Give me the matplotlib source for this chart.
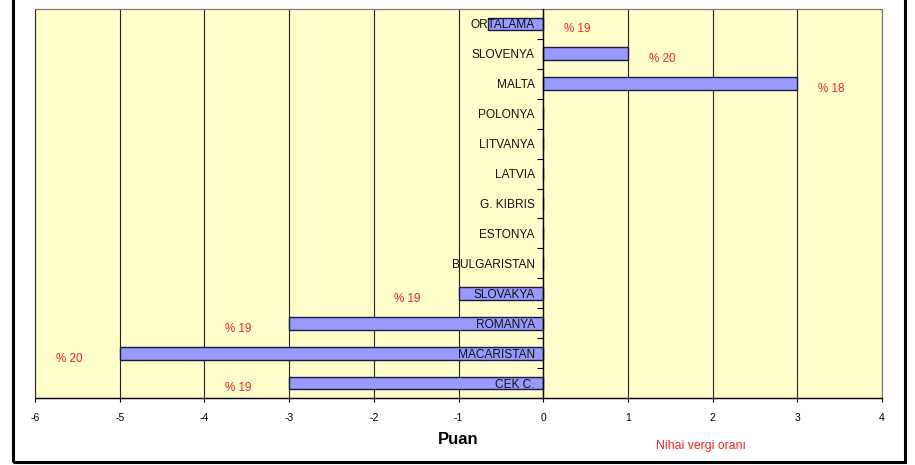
import matplotlib.pyplot as plt
from matplotlib.patches import Rectangle

plt.rcParams['font.family'] = ['Liberation Sans', 'DejaVu Sans']
plt.rcParams['axes.unicode_minus'] = False

# veriler (yukaridan asagiya)
ulkeler = ["ORTALAMA", "SLOVENYA", "MALTA", "POLONYA", "LITVANYA", "LATVIA",
           "G. KIBRIS", "ESTONYA", "BULGARISTAN", "SLOVAKYA", "ROMANYA",
           "MACARISTAN", "CEK C."]
puan = [-0.65, 1, 3, 0, 0, 0, 0, 0, 0, -1, -3, -5, -3]
oran = ["% 19", "% 20", "% 18", "", "", "", "", "", "", "% 19", "% 19", "% 20", "% 19"]

fig = plt.figure(figsize=(9.15, 4.65), dpi=100)
ax = fig.add_axes([35 / 915, 1 - 398 / 465, 847 / 915, 389 / 465])
ax.set_facecolor('#FFFFCC')

y = list(range(len(ulkeler)))
ax.barh(y, puan, height=0.43, color='#9999FF', edgecolor='#1a1a40',
        linewidth=1.0, zorder=3)

for i, (ad, v, t) in enumerate(zip(ulkeler, puan, oran)):
    ax.text(-0.1, i, ad, ha='right', va='center_baseline', fontsize=8.6,
            color='#111111', zorder=5)
    if t:
        if v > 0 or i == 0:
            lx = max(v, 0) + 0.4
        else:
            lx = v - 0.6
        ax.text(lx, i + 0.13, t, ha='center', va='center_baseline', fontsize=8.4,
                color='#FF2020', zorder=5)

ax.set_xlim(-6, 4)
ax.set_ylim(len(ulkeler) - 0.5, -0.5)
ax.set_xticks(range(-6, 5))
ax.tick_params(axis='x', labelsize=7.5, length=3, direction='out', pad=8)
ax.grid(axis='x', color='#222222', linewidth=0.8, zorder=1)
ax.set_axisbelow(True)

# dikey eksen x=0 uzerinde
ax.spines['left'].set_position(('data', 0))
ax.spines['left'].set_linewidth(1.0)
ax.spines['left'].set_zorder(4)
ax.set_yticks([i + 0.5 for i in range(len(ulkeler) - 1)])
ax.set_yticklabels([])
ax.tick_params(axis='y', length=4, direction='out')
for s in ['top', 'right']:
    ax.spines[s].set_color('#777777')
    ax.spines[s].set_linewidth(0.8)
ax.spines['bottom'].set_linewidth(1.0)
ax.patch.set_edgecolor('#777777')
ax.patch.set_linewidth(0.8)

ax.set_xlabel("Puan", fontsize=12, fontweight='bold', labelpad=6)
fig.text(701 / 915, 1 - 446 / 465, "Nihai vergi oranı", fontsize=8.8,
         color='#FF2020', ha='center', va='center')

# dis cerceve
fig.patches.append(Rectangle((13 / 915, 3 / 465), 892 / 915, 1.0,
                             transform=fig.transFigure, fill=False,
                             edgecolor='black', linewidth=2.2))

fig.savefig("out.png", dpi=100)
